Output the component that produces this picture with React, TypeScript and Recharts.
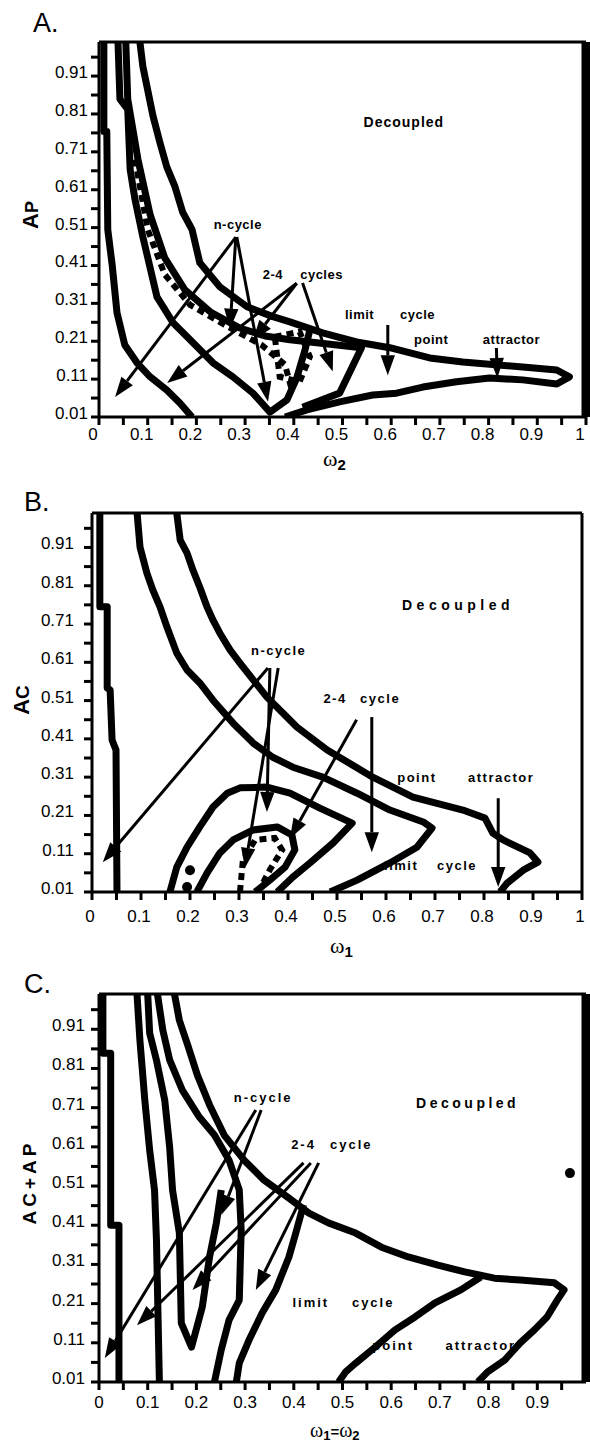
import React from 'react';
import { ScatterChart, Scatter, XAxis, YAxis, ReferenceLine, ReferenceDot } from 'recharts';

type Pt = { x: number; y: number };
type Arrow = { from: Pt; to: Pt };
type Note = { text: string; x: number; y: number };

const p = (x: number, y: number): Pt => ({ x, y });

// shared axis ticks (0.05 steps, labels every 0.1)
const xTicks = [0, 0.05, 0.1, 0.15, 0.2, 0.25, 0.3, 0.35, 0.4, 0.45, 0.5, 0.55, 0.6, 0.65, 0.7, 0.75, 0.8, 0.85, 0.9, 0.95, 1];
const xTickLabels = ['0', '', '0.1', '', '0.2', '', '0.3', '', '0.4', '', '0.5', '', '0.6', '', '0.7', '', '0.8', '', '0.9', '', '1'];
const yTicks = [0.01, 0.06, 0.11, 0.16, 0.21, 0.26, 0.31, 0.36, 0.41, 0.46, 0.51, 0.56, 0.61, 0.66, 0.71, 0.76, 0.81, 0.86, 0.91, 0.96];
const yTickLabels = ['0.01', '', '0.11', '', '0.21', '', '0.31', '', '0.41', '', '0.51', '', '0.61', '', '0.71', '', '0.81', '', '0.91', ''];

// ---- Panel A: A_P vs omega_2 ----
const aLeft = [p(0.01, 1), p(0.01, 0.764), p(0.016, 0.764), p(0.018, 0.505), p(0.027, 0.412), p(0.037, 0.285), p(0.053, 0.2), p(0.078, 0.153), p(0.105, 0.116), p(0.139, 0.081), p(0.166, 0.047), p(0.191, 0.01)];
const aInner = [p(0.039, 1), p(0.043, 0.849), p(0.059, 0.822), p(0.064, 0.663), p(0.074, 0.584), p(0.09, 0.486), p(0.119, 0.327), p(0.152, 0.259), p(0.187, 0.214), p(0.234, 0.153), p(0.275, 0.116), p(0.316, 0.073), p(0.351, 0.023), p(0.386, 0.055), p(0.406, 0.113), p(0.423, 0.187), p(0.433, 0.24)];
const aMid = [p(0.055, 1), p(0.059, 0.849), p(0.08, 0.69), p(0.105, 0.544), p(0.135, 0.43), p(0.176, 0.346), p(0.228, 0.288), p(0.289, 0.245), p(0.341, 0.224), p(0.392, 0.214), p(0.539, 0.193), p(0.494, 0.073), p(0.418, 0.036)];
const aOuter = [p(0.084, 1), p(0.09, 0.936), p(0.111, 0.804), p(0.125, 0.735), p(0.139, 0.671), p(0.156, 0.618), p(0.172, 0.55), p(0.191, 0.505), p(0.207, 0.417), p(0.248, 0.354), p(0.304, 0.301), p(0.357, 0.275), p(0.392, 0.261), p(0.459, 0.232), p(0.529, 0.208), p(0.597, 0.193), p(0.679, 0.166), p(0.747, 0.155), p(0.87, 0.142), p(0.94, 0.134), p(0.966, 0.116), p(0.94, 0.097), p(0.87, 0.108), p(0.802, 0.113), p(0.734, 0.103), p(0.665, 0.089), p(0.611, 0.073), p(0.562, 0.068), p(0.494, 0.05), p(0.427, 0.029), p(0.382, 0.01)];
const aDotted = [p(0.074, 0.69), p(0.1, 0.505), p(0.135, 0.386), p(0.187, 0.306), p(0.258, 0.253), p(0.334, 0.2), p(0.382, 0.148), p(0.396, 0.081)];
const aLoop = [p(0.361, 0.222), p(0.412, 0.235), p(0.433, 0.169), p(0.412, 0.103), p(0.371, 0.116), p(0.361, 0.222)];
const aArrows: Arrow[] = [
  { from: p(0.281, 0.485), to: p(0.033, 0.063) },
  { from: p(0.281, 0.485), to: p(0.269, 0.243) },
  { from: p(0.283, 0.485), to: p(0.347, 0.05) },
  { from: p(0.406, 0.363), to: p(0.14, 0.1) },
  { from: p(0.406, 0.363), to: p(0.316, 0.213) },
  { from: p(0.418, 0.364), to: p(0.48, 0.13) },
  { from: p(0.593, 0.253), to: p(0.593, 0.12) },
  { from: p(0.816, 0.192), to: p(0.818, 0.113) },
];
const aNotes: Note[] = [
  { text: 'Decoupled', x: 0.626, y: 0.788 },
  { text: 'n-cycle', x: 0.285, y: 0.518 },
  { text: '2-4', x: 0.357, y: 0.385 },
  { text: 'cycles', x: 0.457, y: 0.385 },
  { text: 'limit', x: 0.535, y: 0.28 },
  { text: 'cycle', x: 0.654, y: 0.28 },
  { text: 'point', x: 0.682, y: 0.214 },
  { text: 'attractor', x: 0.847, y: 0.214 },
];

// ---- Panel B: A_C vs omega_1 ----
const bLeft = [p(0.016, 1), p(0.016, 0.755), p(0.031, 0.755), p(0.031, 0.543), p(0.037, 0.538), p(0.041, 0.407), p(0.049, 0.381), p(0.051, 0.01)];
const bMid = [p(0.092, 1), p(0.098, 0.911), p(0.112, 0.843), p(0.124, 0.799), p(0.139, 0.754), p(0.153, 0.702), p(0.173, 0.634), p(0.194, 0.59), p(0.22, 0.556), p(0.247, 0.511), p(0.288, 0.451), p(0.329, 0.399), p(0.369, 0.362), p(0.41, 0.336), p(0.471, 0.31), p(0.541, 0.268), p(0.608, 0.224), p(0.676, 0.193), p(0.694, 0.177), p(0.663, 0.127), p(0.608, 0.086), p(0.541, 0.041), p(0.486, 0.01)];
const bOuter = [p(0.173, 1), p(0.18, 0.929), p(0.194, 0.895), p(0.206, 0.851), p(0.22, 0.806), p(0.235, 0.754), p(0.247, 0.72), p(0.261, 0.686), p(0.282, 0.642), p(0.302, 0.608), p(0.329, 0.564), p(0.357, 0.519), p(0.39, 0.477), p(0.418, 0.441), p(0.48, 0.381), p(0.573, 0.31), p(0.655, 0.258), p(0.757, 0.224), p(0.802, 0.203), p(0.818, 0.164), p(0.839, 0.146), p(0.894, 0.112), p(0.91, 0.088), p(0.88, 0.067), p(0.847, 0.033), p(0.833, 0.01)];
const bArch = [p(0.159, 0.01), p(0.173, 0.075), p(0.194, 0.127), p(0.22, 0.18), p(0.247, 0.232), p(0.276, 0.268), p(0.302, 0.282), p(0.357, 0.284), p(0.404, 0.268), p(0.465, 0.229), p(0.531, 0.19), p(0.492, 0.138), p(0.445, 0.086), p(0.41, 0.049), p(0.378, 0.01)];
const bLoop = [p(0.214, 0.01), p(0.235, 0.06), p(0.261, 0.112), p(0.288, 0.146), p(0.329, 0.172), p(0.378, 0.18), p(0.408, 0.159), p(0.414, 0.12), p(0.394, 0.075), p(0.363, 0.041), p(0.333, 0.01)];
const bCore = [p(0.302, 0.01), p(0.308, 0.094), p(0.333, 0.146), p(0.373, 0.151), p(0.388, 0.12), p(0.363, 0.068), p(0.339, 0.01)];
const bDots = [p(0.2, 0.067), p(0.194, 0.023)];
const bArrows: Arrow[] = [
  { from: p(0.359, 0.595), to: p(0.022, 0.088) },
  { from: p(0.363, 0.595), to: p(0.357, 0.219) },
  { from: p(0.38, 0.595), to: p(0.312, 0.073) },
  { from: p(0.54, 0.46), to: p(0.404, 0.15) },
  { from: p(0.571, 0.467), to: p(0.571, 0.114) },
  { from: p(0.829, 0.255), to: p(0.829, 0.023) },
];
const bNotes: Note[] = [
  { text: 'Decoupled', x: 0.747, y: 0.759 },
  { text: 'n-cycle', x: 0.381, y: 0.64 },
  { text: '2-4', x: 0.496, y: 0.515 },
  { text: 'cycle', x: 0.588, y: 0.515 },
  { text: 'point', x: 0.663, y: 0.31 },
  { text: 'attractor', x: 0.835, y: 0.31 },
  { text: 'limit', x: 0.631, y: 0.08 },
  { text: 'cycle', x: 0.745, y: 0.08 },
];

// ---- Panel C: A_C + A_P vs omega_1 = omega_2 ----
const cLeft = [p(0.008, 1), p(0.008, 0.849), p(0.024, 0.849), p(0.024, 0.41), p(0.041, 0.41), p(0.041, 0.01)];
const cSecond = [p(0.078, 1), p(0.084, 0.882), p(0.094, 0.73), p(0.104, 0.602), p(0.114, 0.5), p(0.118, 0.372), p(0.124, 0.01)];
const cHairpin = [p(0.1, 1), p(0.104, 0.9), p(0.118, 0.831), p(0.135, 0.729), p(0.145, 0.61), p(0.151, 0.5), p(0.165, 0.39), p(0.169, 0.16), p(0.19, 0.099), p(0.212, 0.201), p(0.227, 0.329), p(0.241, 0.416), p(0.251, 0.5)];
const cMid = [p(0.12, 1), p(0.131, 0.908), p(0.145, 0.832), p(0.171, 0.755), p(0.206, 0.686), p(0.237, 0.64), p(0.267, 0.576), p(0.288, 0.5), p(0.292, 0.397), p(0.288, 0.219), p(0.267, 0.168), p(0.251, 0.092), p(0.237, 0.01)];
const cOuter = [p(0.155, 1), p(0.165, 0.933), p(0.182, 0.87), p(0.202, 0.793), p(0.227, 0.717), p(0.257, 0.64), p(0.298, 0.576), p(0.339, 0.525), p(0.39, 0.479), p(0.431, 0.441), p(0.471, 0.416), p(0.527, 0.39), p(0.58, 0.354), p(0.635, 0.329), p(0.696, 0.308), p(0.751, 0.291), p(0.812, 0.275), p(0.865, 0.27), p(0.935, 0.263), p(0.955, 0.245), p(0.941, 0.219), p(0.92, 0.176), p(0.894, 0.143), p(0.865, 0.11), p(0.833, 0.066), p(0.798, 0.036), p(0.778, 0.01)];
const cPoint = [p(0.784, 0.278), p(0.743, 0.245), p(0.69, 0.212), p(0.649, 0.176), p(0.608, 0.143), p(0.567, 0.099), p(0.527, 0.058), p(0.506, 0.035), p(0.492, 0.01)];
const cLimit = [p(0.42, 0.462), p(0.404, 0.39), p(0.39, 0.329), p(0.363, 0.245), p(0.335, 0.186), p(0.308, 0.117), p(0.288, 0.058), p(0.282, 0.01)];
const cDots = [p(0.967, 0.543)];
const cArrows: Arrow[] = [
  { from: p(0.322, 0.704), to: p(0.012, 0.071) },
  { from: p(0.333, 0.704), to: p(0.251, 0.436) },
  { from: p(0.42, 0.569), to: p(0.078, 0.155) },
  { from: p(0.435, 0.569), to: p(0.192, 0.245) },
  { from: p(0.451, 0.569), to: p(0.322, 0.245) },
];
const cNotes: Note[] = [
  { text: 'Decoupled', x: 0.757, y: 0.722 },
  { text: 'n-cycle', x: 0.337, y: 0.737 },
  { text: '2-4', x: 0.42, y: 0.615 },
  { text: 'cycle', x: 0.518, y: 0.615 },
  { text: 'limit', x: 0.435, y: 0.214 },
  { text: 'cycle', x: 0.563, y: 0.214 },
  { text: 'point', x: 0.604, y: 0.104 },
  { text: 'attractor', x: 0.784, y: 0.104 },
];

const SANS = '"Liberation Sans", Arial, sans-serif';
const SERIF = '"Liberation Serif", "Times New Roman", serif';

const arrowShape = (head: number) => (props: any) => {
  const { x1, y1, x2, y2 } = props;
  const dx = x2 - x1;
  const dy = y2 - y1;
  const len = Math.hypot(dx, dy) || 1;
  const ux = dx / len;
  const uy = dy / len;
  const bx = x2 - ux * head;
  const by = y2 - uy * head;
  const w = head * 0.36;
  const pts = `${x2},${y2} ${bx - uy * w},${by + ux * w} ${bx + uy * w},${by - ux * w}`;
  return (
    <g>
      <line x1={x1} y1={y1} x2={bx} y2={by} stroke="#000" strokeWidth={3} />
      <polygon points={pts} fill="#000" />
    </g>
  );
};

interface PanelProps {
  top: number;
  height: number;
  marginTop: number;
  marginRight: number;
  xAxisHeight: number;
  yAxisWidth: number;
  yGap: number;
  xLabelOff: number;
  xLabelDx: number;
  ticksX: number[];
  solid: Pt[][];
  dashed: Pt[][];
  arrows: Arrow[];
  notes: Note[];
  dots: Pt[];
  rightBorder: number;
  noteSpacing: number;
  bigSpacing: number;
}

const Panel: React.FC<PanelProps> = (cfg) => {
  const renderXTick = (t: any) => {
    const i = xTicks.findIndex((v) => Math.abs(v - t.payload.value) < 1e-6);
    const label = i >= 0 ? xTickLabels[i] : '';
    return (
      <text x={t.x + cfg.xLabelDx} y={t.y - 8 + cfg.xLabelOff + 6} textAnchor="middle" fontFamily={SANS} fontSize={17} fill="#000">
        {label}
      </text>
    );
  };
  const renderYTick = (t: any) => {
    const i = yTicks.findIndex((v) => Math.abs(v - t.payload.value) < 1e-6);
    const label = i >= 0 ? yTickLabels[i] : '';
    return (
      <text x={t.x} y={t.y + 2} textAnchor="end" fontFamily={SANS} fontSize={17} fill="#000">
        {label}
      </text>
    );
  };

  return (
    <div style={{ position: 'absolute', left: 0, top: cfg.top }}>
      <ScatterChart
        width={590}
        height={cfg.height}
        margin={{ top: cfg.marginTop, right: cfg.marginRight, bottom: 0, left: 0 }}
      >
        <XAxis
          type="number"
          dataKey="x"
          domain={[0, 1]}
          ticks={cfg.ticksX}
          interval={0}
          height={cfg.xAxisHeight}
          tickSize={8}
          tickMargin={0}
          allowDataOverflow
          axisLine={{ stroke: '#000', strokeWidth: 3 }}
          tickLine={{ stroke: '#000', strokeWidth: 3 }}
          tick={renderXTick}
        />
        <YAxis
          type="number"
          dataKey="y"
          domain={[0.01, 1]}
          ticks={yTicks}
          interval={0}
          width={cfg.yAxisWidth}
          tickSize={8}
          tickMargin={cfg.yGap}
          allowDataOverflow
          axisLine={{ stroke: '#000', strokeWidth: 3 }}
          tickLine={{ stroke: '#000', strokeWidth: 3 }}
          tick={renderYTick}
        />
        <ReferenceLine y={1} stroke="#000" strokeWidth={3} ifOverflow="visible" />
        <ReferenceLine x={1} stroke="#000" strokeWidth={cfg.rightBorder} ifOverflow="visible" />
        {cfg.solid.map((d, i) => (
          <Scatter
            key={`s${i}`}
            data={d}
            line={{ stroke: '#000', strokeWidth: 7, strokeLinejoin: 'round' } as any}
            shape={() => <g />}
            legendType="none"
            isAnimationActive={false}
          />
        ))}
        {cfg.dashed.map((d, i) => (
          <Scatter
            key={`d${i}`}
            data={d}
            line={{ stroke: '#000', strokeWidth: 6, strokeDasharray: '7 5' } as any}
            shape={() => <g />}
            legendType="none"
            isAnimationActive={false}
          />
        ))}
        {cfg.arrows.map((a, i) => (
          <ReferenceLine key={`a${i}`} segment={[a.from, a.to]} ifOverflow="visible" shape={arrowShape(20)} />
        ))}
        {cfg.dots.map((d, i) => (
          <ReferenceDot key={`o${i}`} x={d.x} y={d.y} r={5} fill="#000" stroke="none" ifOverflow="visible" />
        ))}
        {cfg.notes.map((n, i) => (
          <ReferenceDot
            key={`n${i}`}
            x={n.x}
            y={n.y}
            r={1}
            ifOverflow="visible"
            shape={(s: any) => (
              <text
                x={s.cx}
                y={s.cy}
                textAnchor="middle"
                dominantBaseline="central"
                fontFamily={SANS}
                fontWeight="bold"
                fontSize={n.text === 'Decoupled' ? 14 : 13}
                letterSpacing={n.text === 'Decoupled' ? cfg.bigSpacing : cfg.noteSpacing}
                fill="#000"
              >
                {n.text}
              </text>
            )}
          />
        ))}
      </ScatterChart>
    </div>
  );
};

export default function App() {
  return (
    <div style={{ position: 'relative', width: 590, height: 1443, background: '#fff', overflow: 'hidden' }}>
      <style>{'body{margin:0;background:#fff;}'}</style>
      <Panel
        top={0}
        height={480}
        marginTop={42}
        marginRight={4}
        xAxisHeight={63}
        yAxisWidth={99}
        yGap={3}
        xLabelOff={17}
        xLabelDx={-6}
        ticksX={xTicks}
        solid={[aLeft, aInner, aMid, aOuter]}
        dashed={[aDotted, aLoop]}
        arrows={aArrows}
        notes={aNotes}
        dots={[]}
        rightBorder={9}
        noteSpacing={0.5}
        bigSpacing={1}
      />
      <Panel
        top={480}
        height={480}
        marginTop={33}
        marginRight={8}
        xAxisHeight={68}
        yAxisWidth={92}
        yGap={10}
        xLabelOff={24}
        xLabelDx={-2}
        ticksX={xTicks}
        solid={[bLeft, bMid, bOuter, bArch, bLoop]}
        dashed={[bCore]}
        arrows={bArrows}
        notes={bNotes}
        dots={bDots}
        rightBorder={3}
        noteSpacing={1.5}
        bigSpacing={4.5}
      />
      <Panel
        top={960}
        height={483}
        marginTop={34}
        marginRight={4}
        xAxisHeight={61}
        yAxisWidth={99}
        yGap={6}
        xLabelOff={20}
        xLabelDx={0}
        ticksX={xTicks.slice(0, -1)}
        solid={[cLeft, cSecond, cHairpin, cMid, cOuter, cPoint, cLimit]}
        dashed={[]}
        arrows={cArrows}
        notes={cNotes}
        dots={cDots}
        rightBorder={9}
        noteSpacing={2}
        bigSpacing={3.5}
      />
      <svg width={590} height={1443} style={{ position: 'absolute', left: 0, top: 0, pointerEvents: 'none' }}>
        <text x={33} y={32} fontFamily={SANS} fontSize={27} fill="#000">A.</text>
        <text x={24} y={511} fontFamily={SANS} fontSize={27} fill="#000">B.</text>
        <text x={24} y={993} fontFamily={SANS} fontSize={27} fill="#000">C.</text>

        <text x={323} y={466} fill="#000">
          <tspan fontFamily={SERIF} fontSize={22}>ω</tspan>
          <tspan fontFamily={SANS} fontWeight="bold" fontSize={15} dy={4}>2</tspan>
        </text>
        <text x={330} y={953} fill="#000">
          <tspan fontFamily={SERIF} fontSize={22}>ω</tspan>
          <tspan fontFamily={SANS} fontWeight="bold" fontSize={15} dy={4}>1</tspan>
        </text>
        <text x={310} y={1437} fill="#000">
          <tspan fontFamily={SERIF} fontSize={20}>ω</tspan>
          <tspan fontFamily={SANS} fontWeight="bold" fontSize={13} dy={3}>1</tspan>
          <tspan fontFamily={SANS} fontWeight="bold" fontSize={15} dy={-3}>=</tspan>
          <tspan fontFamily={SERIF} fontSize={20}>ω</tspan>
          <tspan fontFamily={SANS} fontWeight="bold" fontSize={13} dy={3}>2</tspan>
        </text>

        <text x={38} y={215} transform="rotate(-90 38 215)" textAnchor="middle" fontFamily={SANS} fontWeight="bold" fontSize={22} fill="#000">
          A<tspan fontSize={18}>P</tspan>
        </text>
        <text x={29} y={700} transform="rotate(-90 29 700)" textAnchor="middle" fontFamily={SANS} fontWeight="bold" fontSize={22} fill="#000">
          A<tspan fontSize={19}>C</tspan>
        </text>
        <text x={36} y={1182} transform="rotate(-90 36 1182)" textAnchor="middle" fontFamily={SANS} fontWeight="bold" fontSize={19} letterSpacing={4} fill="#000">
          AC+AP
        </text>
      </svg>
    </div>
  );
}
